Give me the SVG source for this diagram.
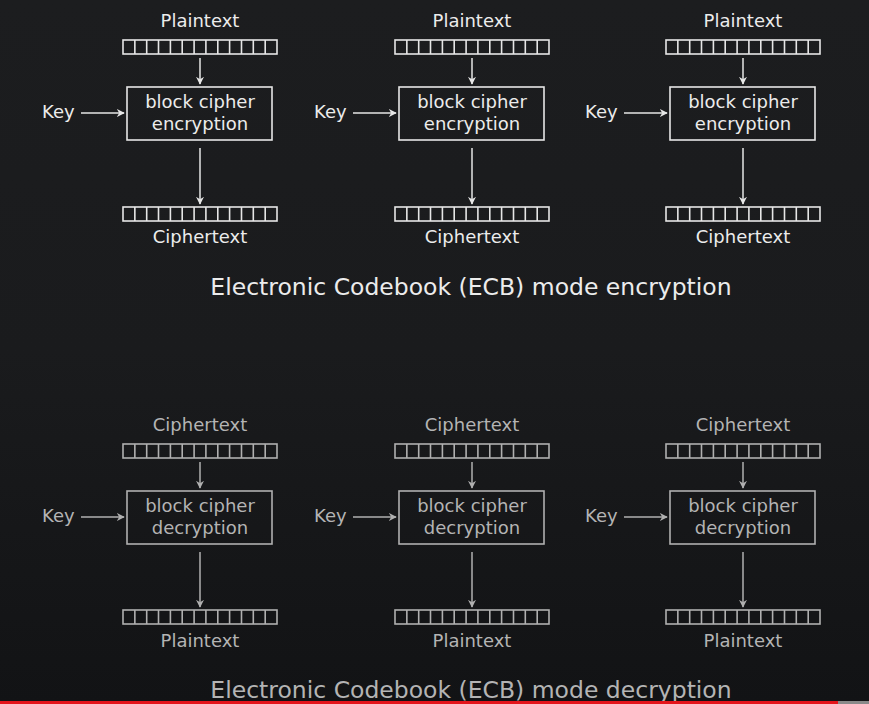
<svg xmlns="http://www.w3.org/2000/svg" width="869" height="704" viewBox="0 0 869 704">
<defs>
<linearGradient id="bg" x1="0" y1="0" x2="0" y2="1">
<stop offset="0" stop-color="#1c1d1f"/>
<stop offset="0.5" stop-color="#1a1b1d"/>
<stop offset="1" stop-color="#121315"/>
</linearGradient>
<marker id="ah" viewBox="0 0 10 10" refX="9" refY="5" markerWidth="8" markerHeight="8" markerUnits="userSpaceOnUse" orient="auto">
<path d="M0,0 L10,5 L0,10 L3,5 z" fill="context-stroke"/>
</marker>
</defs>
<style>
text{font-family:"DejaVu Sans",Verdana,sans-serif;font-size:18px;text-anchor:middle}
.top text{fill:#ececec}
.bot text{fill:#b4b4b4}
.title{font-size:23.5px}
.box{fill:none;stroke-width:1.6}
.top .box,.top line,.top .reg{stroke:#e6e6e6}
.bot .box,.bot line,.bot .reg{stroke:#b0b0b0}
.reg{fill:none;stroke-width:1.6}
.con line{stroke-width:1.5;marker-end:url(#ah)}
.key{text-anchor:start}
</style>
<rect width="869" height="704" fill="url(#bg)"/>

<!-- top: encryption -->
<g class="top">
<g id="enc1">
<text x="200" y="27">Plaintext</text>
<rect class="reg" x="123" y="40" width="154" height="14"/>
<path class="reg" d="M134.85,40v14M146.7,40v14M158.5,40v14M170.4,40v14M182.2,40v14M194.1,40v14M205.9,40v14M217.8,40v14M229.6,40v14M241.5,40v14M253.3,40v14M265.2,40v14"/>
<text class="key" x="42" y="118">Key</text>
<rect class="box" x="127" y="87" width="145" height="53"/>
<text x="200" y="108">block cipher</text>
<text x="200" y="130">encryption</text>
<rect class="reg" x="123" y="207" width="154" height="14"/>
<path class="reg" d="M134.85,207v14M146.7,207v14M158.5,207v14M170.4,207v14M182.2,207v14M194.1,207v14M205.9,207v14M217.8,207v14M229.6,207v14M241.5,207v14M253.3,207v14M265.2,207v14"/>
<text x="200" y="243">Ciphertext</text>
</g>
<g id="enc2">
<text x="472" y="27">Plaintext</text>
<rect class="reg" x="395" y="40" width="154" height="14"/>
<path class="reg" d="M406.85,40v14M418.7,40v14M430.5,40v14M442.4,40v14M454.2,40v14M466.1,40v14M477.9,40v14M489.8,40v14M501.6,40v14M513.5,40v14M525.3,40v14M537.2,40v14"/>
<text class="key" x="314" y="118">Key</text>
<rect class="box" x="399" y="87" width="145" height="53"/>
<text x="472" y="108">block cipher</text>
<text x="472" y="130">encryption</text>
<rect class="reg" x="395" y="207" width="154" height="14"/>
<path class="reg" d="M406.85,207v14M418.7,207v14M430.5,207v14M442.4,207v14M454.2,207v14M466.1,207v14M477.9,207v14M489.8,207v14M501.6,207v14M513.5,207v14M525.3,207v14M537.2,207v14"/>
<text x="472" y="243">Ciphertext</text>
</g>
<g id="enc3">
<text x="743" y="27">Plaintext</text>
<rect class="reg" x="666" y="40" width="154" height="14"/>
<path class="reg" d="M677.85,40v14M689.7,40v14M701.5,40v14M713.4,40v14M725.2,40v14M737.1,40v14M748.9,40v14M760.8,40v14M772.6,40v14M784.5,40v14M796.3,40v14M808.2,40v14"/>
<text class="key" x="585" y="118">Key</text>
<rect class="box" x="670" y="87" width="145" height="53"/>
<text x="743" y="108">block cipher</text>
<text x="743" y="130">encryption</text>
<rect class="reg" x="666" y="207" width="154" height="14"/>
<path class="reg" d="M677.85,207v14M689.7,207v14M701.5,207v14M713.4,207v14M725.2,207v14M737.1,207v14M748.9,207v14M760.8,207v14M772.6,207v14M784.5,207v14M796.3,207v14M808.2,207v14"/>
<text x="743" y="243">Ciphertext</text>
</g>
<g id="enc-title"><text class="title" x="471" y="295">Electronic Codebook (ECB) mode encryption</text></g>
<g class="con" id="enc-connectors">
<line x1="200" y1="58" x2="200" y2="84"/>
<line x1="81" y1="113" x2="124" y2="113"/>
<line x1="200" y1="148" x2="200" y2="204"/>
<line x1="472" y1="58" x2="472" y2="84"/>
<line x1="353" y1="113" x2="396" y2="113"/>
<line x1="472" y1="148" x2="472" y2="204"/>
<line x1="743" y1="58" x2="743" y2="84"/>
<line x1="624" y1="113" x2="667" y2="113"/>
<line x1="743" y1="148" x2="743" y2="204"/>
</g>
</g>

<!-- bottom: decryption -->
<g class="bot">
<g id="dec1">
<text x="200" y="431">Ciphertext</text>
<rect class="reg" x="123" y="444" width="154" height="14"/>
<path class="reg" d="M134.85,444v14M146.7,444v14M158.5,444v14M170.4,444v14M182.2,444v14M194.1,444v14M205.9,444v14M217.8,444v14M229.6,444v14M241.5,444v14M253.3,444v14M265.2,444v14"/>
<text class="key" x="42" y="522">Key</text>
<rect class="box" x="127" y="491" width="145" height="53"/>
<text x="200" y="512">block cipher</text>
<text x="200" y="534">decryption</text>
<rect class="reg" x="123" y="610" width="154" height="14"/>
<path class="reg" d="M134.85,610v14M146.7,610v14M158.5,610v14M170.4,610v14M182.2,610v14M194.1,610v14M205.9,610v14M217.8,610v14M229.6,610v14M241.5,610v14M253.3,610v14M265.2,610v14"/>
<text x="200" y="647">Plaintext</text>
</g>
<g id="dec2">
<text x="472" y="431">Ciphertext</text>
<rect class="reg" x="395" y="444" width="154" height="14"/>
<path class="reg" d="M406.85,444v14M418.7,444v14M430.5,444v14M442.4,444v14M454.2,444v14M466.1,444v14M477.9,444v14M489.8,444v14M501.6,444v14M513.5,444v14M525.3,444v14M537.2,444v14"/>
<text class="key" x="314" y="522">Key</text>
<rect class="box" x="399" y="491" width="145" height="53"/>
<text x="472" y="512">block cipher</text>
<text x="472" y="534">decryption</text>
<rect class="reg" x="395" y="610" width="154" height="14"/>
<path class="reg" d="M406.85,610v14M418.7,610v14M430.5,610v14M442.4,610v14M454.2,610v14M466.1,610v14M477.9,610v14M489.8,610v14M501.6,610v14M513.5,610v14M525.3,610v14M537.2,610v14"/>
<text x="472" y="647">Plaintext</text>
</g>
<g id="dec3">
<text x="743" y="431">Ciphertext</text>
<rect class="reg" x="666" y="444" width="154" height="14"/>
<path class="reg" d="M677.85,444v14M689.7,444v14M701.5,444v14M713.4,444v14M725.2,444v14M737.1,444v14M748.9,444v14M760.8,444v14M772.6,444v14M784.5,444v14M796.3,444v14M808.2,444v14"/>
<text class="key" x="585" y="522">Key</text>
<rect class="box" x="670" y="491" width="145" height="53"/>
<text x="743" y="512">block cipher</text>
<text x="743" y="534">decryption</text>
<rect class="reg" x="666" y="610" width="154" height="14"/>
<path class="reg" d="M677.85,610v14M689.7,610v14M701.5,610v14M713.4,610v14M725.2,610v14M737.1,610v14M748.9,610v14M760.8,610v14M772.6,610v14M784.5,610v14M796.3,610v14M808.2,610v14"/>
<text x="743" y="647">Plaintext</text>
</g>
<g id="dec-title"><text class="title" x="471" y="698">Electronic Codebook (ECB) mode decryption</text></g>
<g class="con" id="dec-connectors">
<line x1="200" y1="462" x2="200" y2="488"/>
<line x1="81" y1="517" x2="124" y2="517"/>
<line x1="200" y1="552" x2="200" y2="607"/>
<line x1="472" y1="462" x2="472" y2="488"/>
<line x1="353" y1="517" x2="396" y2="517"/>
<line x1="472" y1="552" x2="472" y2="607"/>
<line x1="743" y1="462" x2="743" y2="488"/>
<line x1="624" y1="517" x2="667" y2="517"/>
<line x1="743" y1="552" x2="743" y2="607"/>
</g>
</g>

<rect x="0" y="701" width="838" height="3" fill="#e4141b"/>
<rect x="838" y="701" width="31" height="3" fill="#8a8a8a"/>
</svg>
